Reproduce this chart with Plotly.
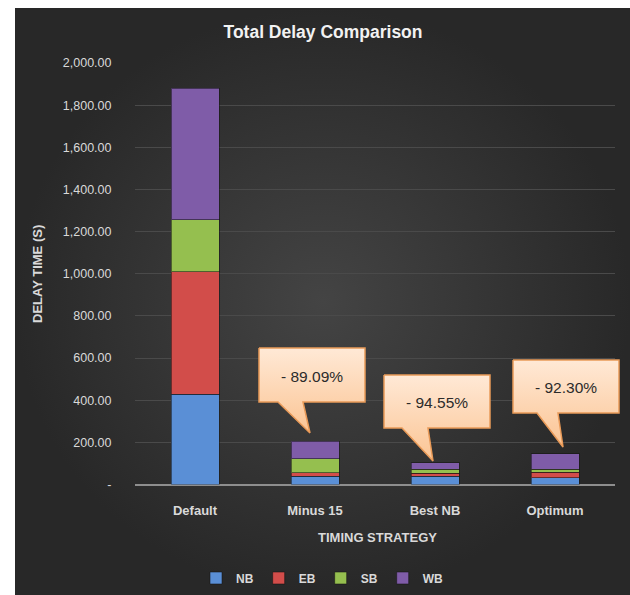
import plotly.graph_objects as go

# ---------------- data ----------------
categories = ["Default", "Minus 15", "Best NB", "Optimum"]
nb = [428, 38, 38, 32]
eb = [582, 18, 15, 26]
sb = [247, 66, 20, 14]
wb = [623, 83, 30, 73]
series_names = ["NB", "EB", "SB", "WB"]
reduction_labels = ["- 89.09%", "- 94.55%", "- 92.30%"]
y_ticks = list(range(0, 2001, 200))
y_ticktext = ["-" if v == 0 else f"{v:,.2f}" for v in y_ticks]

# ---------------- styling ----------------
W, H = 630, 595
FONT = "Liberation Sans, Arial, sans-serif"
colors = ["#5a8fd6", "#d24d4a", "#95bf4f", "#7f5ca8"]
TXT = "#d9d9d9"


def py(v):
    return H - v  # pixel-from-top -> overlay axis units


fig = go.Figure()

# dark panel background with radial gradient (overlay pixel axes x/y)
fig.add_trace(go.Scatter(
    x=[15, W, W, 15, 15], y=[py(8), py(8), py(H), py(H), py(8)],
    fill="toself", mode="lines", line=dict(width=0),
    fillgradient=dict(type="radial", colorscale=[[0, "#444444"], [1, "#282828"]]),
    xaxis="x", yaxis="y", hoverinfo="skip", showlegend=False))

# stacked bars
for name, vals, col in zip(series_names, [nb, eb, sb, wb], colors):
    fig.add_trace(go.Bar(
        x=categories, y=vals, name=name, xaxis="x2", yaxis="y2",
        marker=dict(color=col, line=dict(color="rgba(20,20,20,0.55)", width=1))))

# callouts (decorations) on top overlay axes x3/y3, in pixel units
callouts = [
    dict(L=259, T=348, R=365, B=402, bl=278, br=303, tx=310, ty=433),
    dict(L=384, T=375, R=490, B=428, bl=402, br=428, tx=433, ty=461),
    dict(L=513, T=360, R=619, B=413, bl=537, br=558, tx=563, ty=447),
]
annotations = []
for c, lab in zip(callouts, reduction_labels):
    xs = [c["L"], c["R"], c["R"], c["br"], c["tx"], c["bl"], c["L"], c["L"]]
    ys = [c["T"], c["T"], c["B"], c["B"], c["ty"], c["B"], c["B"], c["T"]]
    fig.add_trace(go.Scatter(
        x=xs, y=[py(v) for v in ys], fill="toself", mode="lines",
        line=dict(color="#e99a58", width=1.5),
        fillgradient=dict(type="vertical", colorscale=[[0, "#fbc493"], [1, "#ffe9d6"]]),
        xaxis="x3", yaxis="y3", hoverinfo="skip", showlegend=False))
    annotations.append(dict(
        x=(c["L"] + c["R"]) / 2 / W, y=1 - ((c["T"] + c["B"]) / 2 + 1) / H,
        xref="paper", yref="paper", xanchor="center", yanchor="middle",
        text=lab, showarrow=False,
        font=dict(family=FONT, size=15.5, color="#2b2b2b")))

annotations.append(dict(
    x=377 / W, y=1 - 537 / H, xref="paper", yref="paper",
    xanchor="center", yanchor="middle", text="TIMING STRATEGY",
    showarrow=False, font=dict(family=FONT, size=13, color=TXT, weight="bold")))
annotations.append(dict(
    x=38 / W, y=1 - 274 / H, xref="paper", yref="paper",
    xanchor="center", yanchor="middle", text="DELAY TIME (S)",
    textangle=-90, showarrow=False,
    font=dict(family=FONT, size=13, color=TXT, weight="bold")))

overlay_ax = dict(domain=[0, 1], range=[0, W], visible=False, fixedrange=True)
overlay_ay = dict(domain=[0, 1], range=[0, H], visible=False, fixedrange=True)

fig.update_layout(
    width=W, height=H,
    margin=dict(l=0, r=0, t=0, b=0, pad=0),
    paper_bgcolor="white", plot_bgcolor="rgba(0,0,0,0)",
    barmode="stack", bargap=0.6,
    font=dict(family=FONT, color=TXT),
    title=dict(text="Total Delay Comparison", x=323 / W, y=1 - 32 / H,
               xanchor="center", yanchor="middle",
               font=dict(family=FONT, size=17.5, color="#f2f2f2", weight="bold")),
    xaxis=dict(overlay_ax, anchor="y"),
    yaxis=dict(overlay_ay, anchor="x"),
    xaxis3=dict(overlay_ax, anchor="y3"),
    yaxis3=dict(overlay_ay, anchor="x3"),
    xaxis2=dict(domain=[135 / W, 615 / W], anchor="y2", type="category",
                showgrid=False, showline=False, zeroline=False,
                ticks="outside", ticklen=14, tickcolor="rgba(0,0,0,0)",
                tickfont=dict(family=FONT, size=13, color=TXT, weight="bold"),
                automargin=False, fixedrange=True),
    yaxis2=dict(domain=[(H - 484.5) / H, (H - 63) / H], anchor="x2",
                range=[0, 2000], tickvals=y_ticks, ticktext=y_ticktext,
                showgrid=True, gridcolor="#4a4a4a", gridwidth=1,
                zeroline=True, zerolinecolor="#8e8e8e", zerolinewidth=2,
                ticks="outside", ticklen=20, tickcolor="rgba(0,0,0,0)",
                tickfont=dict(family=FONT, size=12.5, color=TXT),
                automargin=False, fixedrange=True),
    legend=dict(orientation="h", x=196 / W, xanchor="left",
                y=1 - 578 / H, yanchor="middle", bgcolor="rgba(0,0,0,0)",
                traceorder="normal",
                font=dict(family=FONT, size=12, color=TXT, weight="bold"),
                itemclick=False, itemdoubleclick=False),
    annotations=annotations,
)

fig.write_html("out.html")
